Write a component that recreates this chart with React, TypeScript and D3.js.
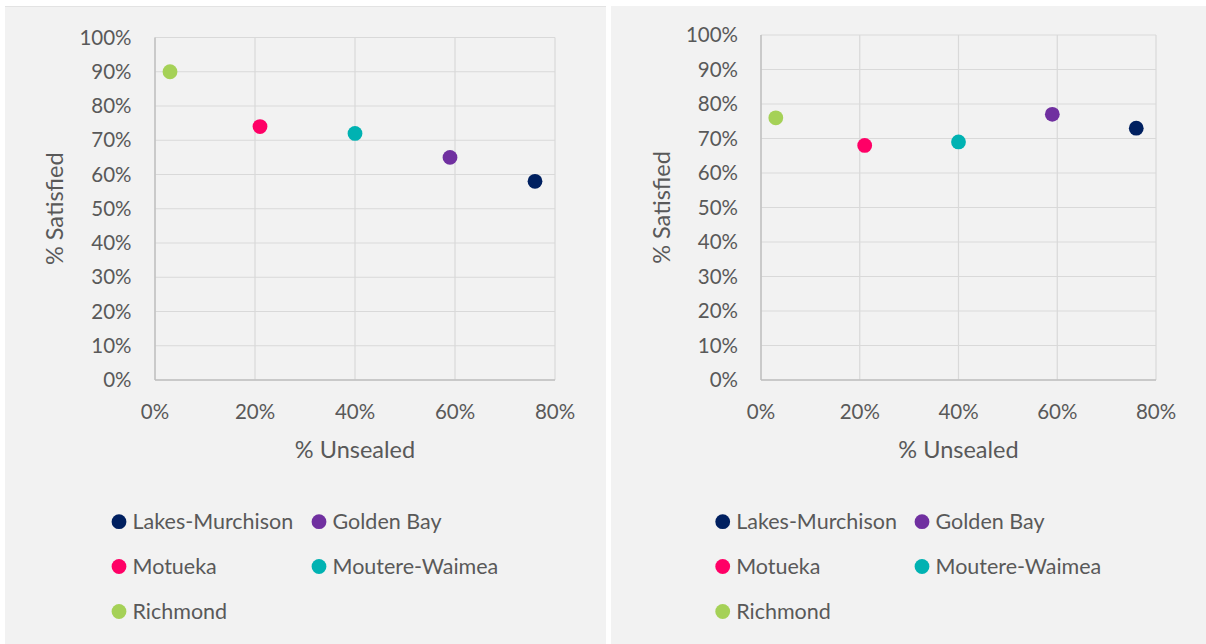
import React from "react";
import * as d3 from "d3";

const regions = ["Lakes-Murchison", "Golden Bay", "Motueka", "Moutere-Waimea", "Richmond"];
const regionColors = ["#002060", "#7030a0", "#ff0066", "#00b2b2", "#a5d157"];
const unsealed = [0.76, 0.59, 0.21, 0.40, 0.03];
const satisfiedLeft = [0.58, 0.65, 0.74, 0.72, 0.90];
const satisfiedRight = [0.73, 0.77, 0.68, 0.69, 0.76];
const xTicks = [0, 0.2, 0.4, 0.6, 0.8];
const yTicks = [0, 0.1, 0.2, 0.3, 0.4, 0.5, 0.6, 0.7, 0.8, 0.9, 1.0];
const xTitle = "% Unsealed";
const yTitle = "% Satisfied";

const FONT = "Lato, 'Open Sans', sans-serif";
const TEXT = "#595959";
const fmt = d3.format(".0%");

type PanelProps = {
  bx: number; bw: number; by: number; bh: number;
  left: number; right: number; top: number; bottom: number;
  yLabelX: number; yTitleX: number;
  legX: number[]; legY: number[];
  values: number[];
};

function Panel(p: PanelProps) {
  const x = d3.scaleLinear().domain([0, 0.8]).range([p.left, p.right]);
  const y = d3.scaleLinear().domain([0, 1]).range([p.bottom, p.top]);
  const cx = (p.left + p.right) / 2;
  return (
    <g>
      <rect x={p.bx} y={p.by} width={p.bw} height={p.bh} fill="#f2f2f2" />
      {yTicks.map((t) => (
        <line key={"h" + t} x1={p.left} x2={p.right} y1={y(t)} y2={y(t)} stroke="#d9d9d9" strokeWidth={1.2} />
      ))}
      {xTicks.map((t) => (
        <line key={"v" + t} x1={x(t)} x2={x(t)} y1={p.top} y2={p.bottom} stroke="#d9d9d9" strokeWidth={1.2} />
      ))}
      <line x1={p.left} x2={p.left} y1={p.top} y2={p.bottom} stroke="#bfbfbf" strokeWidth={1.4} />
      <line x1={p.left} x2={p.right} y1={p.bottom} y2={p.bottom} stroke="#bfbfbf" strokeWidth={1.4} />
      {yTicks.map((t) => (
        <text key={"yl" + t} x={p.yLabelX} y={y(t)} dy="0.35em" textAnchor="end" fontSize={20.5} fill={TEXT} fontFamily={FONT}>
          {fmt(t)}
        </text>
      ))}
      {xTicks.map((t) => (
        <text key={"xl" + t} x={x(t)} y={p.bottom + 32} dy="0.35em" textAnchor="middle" fontSize={20.5} fill={TEXT} fontFamily={FONT}>
          {fmt(t)}
        </text>
      ))}
      <text x={cx} y={p.bottom + 70} dy="0.35em" textAnchor="middle" fontSize={23.5} fill={TEXT} fontFamily={FONT}>
        {xTitle}
      </text>
      <text
        transform={`translate(${p.yTitleX},${(p.top + p.bottom) / 2}) rotate(-90)`}
        dy="0.35em"
        textAnchor="middle"
        fontSize={23.5}
        fill={TEXT}
        fontFamily={FONT}
      >
        {yTitle}
      </text>
      {regions.map((r, i) => (
        <circle key={"pt" + r} cx={x(unsealed[i])} cy={y(p.values[i])} r={7.4} fill={regionColors[i]} />
      ))}
      {regions.map((r, i) => {
        const lx = p.legX[i % 2];
        const ly = p.legY[Math.floor(i / 2)];
        return (
          <g key={"lg" + r}>
            <circle cx={lx} cy={ly} r={7.4} fill={regionColors[i]} />
            <text x={lx + 13.5} y={ly} dy="0.35em" fontSize={21.5} fill={TEXT} fontFamily={FONT}>
              {r}
            </text>
          </g>
        );
      })}
    </g>
  );
}

export default function App() {
  return (
    <svg width={1206} height={644} style={{ position: "absolute", left: 0, top: 0, background: "#ffffff" }}>
      <Panel
        bx={5} bw={601} by={6} bh={638}
        left={155} right={555} top={37.5} bottom={380}
        yLabelX={131.5} yTitleX={55}
        legX={[119, 319]} legY={[521.7, 566.5, 611.5]}
        values={satisfiedLeft}
      />
      <line x1={5} x2={606} y1={6.5} y2={6.5} stroke="#e3e3e3" strokeWidth={1} />
      <Panel
        bx={611} bw={595} by={6} bh={638}
        left={761} right={1156} top={35} bottom={380}
        yLabelX={738} yTitleX={662}
        legX={[722.7, 922]} legY={[521.7, 566.5, 611.5]}
        values={satisfiedRight}
      />
    </svg>
  );
}
